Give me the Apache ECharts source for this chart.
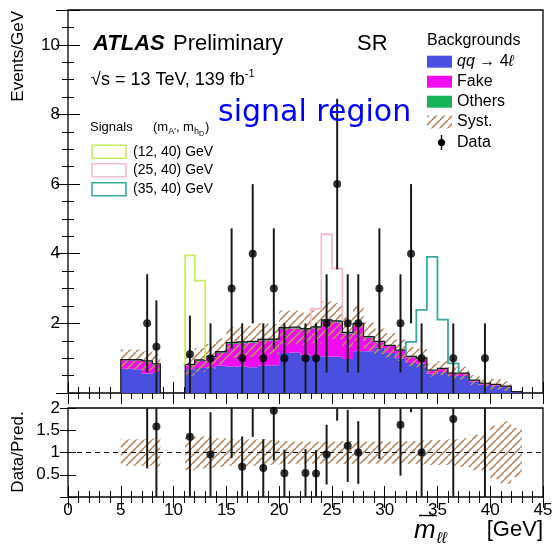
<!DOCTYPE html>
<html>
<head>
<meta charset="utf-8">
<script src="https://cdn.jsdelivr.net/npm/echarts@6/dist/echarts.min.js"></script>
<style>
html,body{margin:0;padding:0;background:#ffffff;}
#chart{width:552px;height:545px;}
</style>
</head>
<body>
<div id="chart"></div>
<script>
// Bin edges in GeV: two mass windows, 1 GeV bins, edge bins trimmed at the veto
const binLow  = [5, 6, 7, 8, 11.1, 12, 13, 14, 15, 16, 17, 18, 19, 20, 21, 22, 23, 24, 25, 26, 27, 28, 29, 30, 31, 32, 33, 34, 35, 36, 37, 38, 39, 40, 41, 42];
const binHigh = [6, 7, 8, 8.75, 12, 13, 14, 15, 16, 17, 18, 19, 20, 21, 22, 23, 24, 25, 26, 27, 28, 29, 30, 31, 32, 33, 34, 35, 36, 37, 38, 39, 40, 41, 42, 43];

// Background predictions (events / GeV), stacked in this order
const qq4l   = [0.70, 0.68, 0.56, 0.60, 0.68, 0.72, 0.74, 0.78, 0.76, 0.76, 0.74, 0.78, 0.80, 1.15, 1.16, 1.10, 1.06, 1.05, 1.04, 0.98, 1.20, 1.20, 1.30, 1.15, 1.00, 0.86, 0.84, 0.55, 0.60, 0.49, 0.49, 0.32, 0.24, 0.21, 0.17, 0.03];
const fake   = [0.24, 0.26, 0.34, 0.22, 0.12, 0.20, 0.28, 0.37, 0.65, 0.67, 0.70, 0.72, 0.71, 0.69, 0.69, 0.71, 0.80, 1.01, 0.99, 0.72, 0.76, 0.39, 0.16, 0.20, 0.21, 0.17, 0.14, 0.10, 0.10, 0.07, 0.07, 0.04, 0.03, 0.03, 0.02, 0.01];
const others = [0.02, 0.02, 0.02, 0.02, 0.02, 0.03, 0.03, 0.04, 0.04, 0.04, 0.04, 0.04, 0.04, 0.04, 0.04, 0.04, 0.04, 0.04, 0.04, 0.04, 0.04, 0.03, 0.02, 0.02, 0.02, 0.02, 0.02, 0.01, 0.01, 0.01, 0.01, 0.01, 0.01, 0.01, 0.01, 0.00];

// Relative systematic uncertainty on the total prediction
const systRel = [0.30, 0.30, 0.30, 0.32, 0.40, 0.36, 0.34, 0.32, 0.30, 0.30, 0.30, 0.30, 0.28, 0.26, 0.25, 0.25, 0.25, 0.25, 0.25, 0.26, 0.25, 0.25, 0.25, 0.25, 0.25, 0.26, 0.27, 0.28, 0.28, 0.30, 0.32, 0.40, 0.40, 0.60, 0.70, 0.55];

// Observed data (events / GeV) and statistical error
const dataVal = [0, 0, 2, 1.33, 1.11, 0, 1, 0, 3, 1, 4, 1, 3, 1, 0, 1, 1, 2, 6, 2, 2, 0, 3, 0, 2, 4, 1, 0, 0, 1, 0, 0, 1, 0, 0, 0];
const dataErr = [0, 0, 1.41, 1.33, 1.11, 0, 1, 0, 1.73, 1, 2, 1, 1.73, 1, 0, 1, 1, 1.41, 2.45, 1.41, 1.41, 0, 1.73, 0, 1.41, 2, 1, 0, 0, 1, 0, 0, 1, 0, 0, 0];

// Signal hypotheses (events / GeV above the background)
const sig12_40 = [0, 0, 0, 0, 3.13, 2.28, 0, 0, 0, 0, 0, 0, 0, 0, 0, 0, 0, 0, 0, 0, 0, 0, 0, 0, 0, 0, 0, 0, 0, 0, 0, 0, 0, 0, 0, 0];
const sig25_40 = [0, 0, 0, 0, 0, 0, 0, 0, 0, 0, 0, 0, 0, 0, 0, 0, 0.52, 2.46, 1.50, 0, 0, 0, 0, 0, 0, 0, 0, 0, 0, 0, 0, 0, 0, 0, 0, 0];
const sig35_40 = [0, 0, 0, 0, 0, 0, 0, 0, 0, 0, 0, 0, 0, 0, 0, 0, 0, 0, 0, 0, 0, 0, 0, 0, 0, 0.42, 1.39, 3.25, 1.40, 0.28, 0, 0, 0, 0, 0, 0];

const FF = "'Liberation Sans', Arial, Helvetica, sans-serif";
const COL = {
  qq: '#4b4fe0', fake: '#f00cee', oth: '#16b35b', hatch: '#b88e6a',
  s12: '#c4ee5c', s25: '#f4bccf', s35: '#3aa89c', ink: '#1a1a1a'
};

const N = binLow.length;
const lay1 = qq4l.slice();
const lay2 = qq4l.map((v, i) => v + fake[i]);
const total = lay2.map((v, i) => v + others[i]);
const zeros = new Array(N).fill(0);
const bandLo = total.map((t, i) => t * (1 - systRel[i]));
const bandHi = total.map((t, i) => t * (1 + systRel[i]));
const ratioLo = systRel.map(s => 1 - s);
const ratioHi = systRel.map(s => 1 + s);
const near = (a, b) => Math.abs(a - b) < 1e-9;

// contiguous runs of bins
const runs = [];
{
  let cur = [0];
  for (let i = 1; i < N; i++) {
    if (near(binLow[i], binHigh[i - 1])) cur.push(i); else { runs.push(cur); cur = [i]; }
  }
  runs.push(cur);
}

// diagonal hatch fill
function makeHatch() {
  const c = document.createElement('canvas');
  c.width = 8; c.height = 8;
  const g = c.getContext('2d');
  g.strokeStyle = COL.hatch; g.lineWidth = 1.7;
  g.beginPath();
  for (const k of [-8, 0, 8]) { g.moveTo(k, 8); g.lineTo(k + 8, 0); }
  g.stroke();
  return c;
}
const hatchFill = { image: makeHatch(), repeat: 'repeat' };

function bandSeries(lo, hi, style, xi, yi, z) {
  return {
    type: 'custom', xAxisIndex: xi, yAxisIndex: yi, z: z, silent: true,
    data: runs.map((r, k) => [binLow[r[0]], 0, k]),
    renderItem: (p, api) => {
      const r = runs[p.dataIndex];
      const pts = [];
      r.forEach(i => { pts.push(api.coord([binLow[i], hi[i]]), api.coord([binHigh[i], hi[i]])); });
      for (let k = r.length - 1; k >= 0; k--) {
        const i = r[k];
        pts.push(api.coord([binHigh[i], lo[i]]), api.coord([binLow[i], lo[i]]));
      }
      return { type: 'polygon', shape: { points: pts }, style: style };
    }
  };
}

function outlineSeries() {
  return {
    type: 'custom', xAxisIndex: 0, yAxisIndex: 0, z: 4, silent: true,
    data: runs.map((r, k) => [binLow[r[0]], 0, k]),
    renderItem: (p, api) => {
      const r = runs[p.dataIndex];
      const pts = [api.coord([binLow[r[0]], 0])];
      r.forEach(i => pts.push(api.coord([binLow[i], total[i]]), api.coord([binHigh[i], total[i]])));
      pts.push(api.coord([binHigh[r[r.length - 1]], 0]));
      return { type: 'polyline', shape: { points: pts }, style: { stroke: COL.ink, lineWidth: 1.2, fill: null } };
    }
  };
}

function signalSeries(sig, color) {
  const segs = [];
  let s = null;
  for (let i = 0; i < N; i++) {
    if (sig[i] > 0) {
      if (s && near(binLow[i], binHigh[s[s.length - 1]])) s.push(i);
      else { s = [i]; segs.push(s); }
    } else s = null;
  }
  return {
    type: 'custom', xAxisIndex: 0, yAxisIndex: 0, z: 6, silent: true,
    data: segs.map((g, k) => [binLow[g[0]], 0, k]),
    renderItem: (p, api) => {
      const g = segs[p.dataIndex];
      const pts = [api.coord([binLow[g[0]], total[g[0]]])];
      g.forEach(i => pts.push(api.coord([binLow[i], total[i] + sig[i]]), api.coord([binHigh[i], total[i] + sig[i]])));
      const last = g[g.length - 1];
      pts.push(api.coord([binHigh[last], total[last]]));
      return { type: 'polyline', shape: { points: pts }, style: { stroke: color, lineWidth: 1.8, fill: null } };
    }
  };
}

function errorSeries(rows, xi, yi, ymin, ymax) {
  return {
    type: 'custom', xAxisIndex: xi, yAxisIndex: yi, z: 8, silent: true, data: rows,
    renderItem: (p, api) => {
      const x = api.value(0);
      const lo = Math.max(api.value(1), ymin), hi = Math.min(api.value(2), ymax);
      if (hi <= lo) return { type: 'group', children: [] };
      const a = api.coord([x, lo]), b = api.coord([x, hi]);
      return { type: 'line', shape: { x1: a[0], y1: a[1], x2: b[0], y2: b[1] }, style: { stroke: COL.ink, lineWidth: 2 } };
    }
  };
}

// data points and ratio to the prediction
const centers = binLow.map((l, i) => (l + binHigh[i]) / 2);
const shown = [];
for (let i = 0; i < N; i++) if (dataVal[i] > 0) shown.push(i);
const mainPts = shown.map(i => [centers[i], dataVal[i]]);
const mainErr = shown.map(i => [centers[i], dataVal[i] - dataErr[i], dataVal[i] + dataErr[i]]);
const ratPts = shown.map(i => [centers[i], dataVal[i] / total[i]]).filter(d => d[1] <= 2);
const ratErr = shown.map(i => [centers[i], (dataVal[i] - dataErr[i]) / total[i], (dataVal[i] + dataErr[i]) / total[i]]);

// axes
const tickStyle = { color: '#000', width: 1 };
function xAxisDef(grid, pos, labels) {
  return {
    type: 'value', gridIndex: grid, position: pos, min: 0, max: 45, interval: 5,
    splitLine: { show: false }, axisLine: { show: false },
    axisTick: { show: true, inside: true, length: 11, lineStyle: tickStyle },
    minorTick: { show: true, splitNumber: 5, length: 6, lineStyle: tickStyle },
    axisLabel: labels ? { show: true, fontFamily: FF, fontSize: 17, color: '#000', margin: 5 } : { show: false }
  };
}
function yMain(pos, labels) {
  return {
    type: 'value', gridIndex: 0, position: pos, min: 0, max: 11, interval: 2,
    splitLine: { show: false }, axisLine: { show: false },
    axisTick: { show: true, inside: true, length: 12, lineStyle: tickStyle },
    minorTick: { show: true, splitNumber: 4, length: 6, lineStyle: tickStyle },
    axisLabel: labels ? {
      show: true, fontFamily: FF, fontSize: 17, color: '#000', margin: 8,
      formatter: v => (v > 0 && v % 2 === 0) ? String(v) : ''
    } : { show: false }
  };
}
function yRatio(pos, labels) {
  return {
    type: 'value', gridIndex: 1, position: pos, min: 0, max: 2, interval: 0.5,
    splitLine: { show: false }, axisLine: { show: false },
    axisTick: { show: true, inside: true, length: 8, lineStyle: tickStyle },
    minorTick: { show: false },
    axisLabel: labels ? {
      show: true, fontFamily: FF, fontSize: 17, color: '#000', margin: 8,
      formatter: v => v > 0 ? String(v) : ''
    } : { show: false }
  };
}

// text helpers
const mctx = document.createElement('canvas').getContext('2d');
function tw(str, size, style, fam) { mctx.font = `${style || ''} ${size}px ${fam || FF}`; return mctx.measureText(str).width; }
function txt(x, y, str, size, o) {
  o = o || {};
  return {
    type: 'text', x: x, y: y, rotation: o.rot || 0, silent: true, z: 100,
    style: {
      text: str, fill: o.color || '#000',
      font: `${o.style || ''} ${size}px ${o.fam || FF}`,
      align: o.align || 'left', verticalAlign: 'middle'
    }
  };
}

const G = [];
// header
G.push(txt(93, 44, 'ATLAS', 22, { style: 'italic bold' }));
G.push(txt(173, 44, 'Preliminary', 22));
G.push(txt(357, 44, 'SR', 22));
{
  const s = '\u221As = 13 TeV, 139 fb';
  G.push(txt(91, 80.3, s, 18));
  G.push(txt(91 + tw(s, 18), 74, '-1', 11));
}
G.push(txt(218, 113, 'signal region', 30, { fam: "'DejaVu Sans', sans-serif", color: '#0000ff' }));

// signal legend
{
  const y = 127.5;
  G.push(txt(90, y, 'Signals', 13));
  let x = 153;
  G.push(txt(x, y, '(m', 13)); x += tw('(m', 13);
  G.push(txt(x, y + 4, "A'", 9)); x += tw("A'", 9);
  G.push(txt(x, y, ', m', 13)); x += tw(', m', 13);
  G.push(txt(x, y + 4, 'h', 9)); x += tw('h', 9);
  G.push(txt(x, y + 7, 'D', 7)); x += tw('D', 7);
  G.push(txt(x + 1, y, ')', 13));
  const rows = [['(12, 40) GeV', COL.s12, 151.7], ['(25, 40) GeV', COL.s25, 170.3], ['(35, 40) GeV', COL.s35, 189.3]];
  rows.forEach(r => {
    G.push({ type: 'rect', silent: true, z: 100, shape: { x: 92, y: r[2] - 6.5, width: 34, height: 13 }, style: { fill: 'none', stroke: r[1], lineWidth: 1.6 } });
    G.push(txt(133, r[2], r[0], 14));
  });
}

// background legend
{
  G.push(txt(427, 40.7, 'Backgrounds', 16));
  const sw = (y, fill) => G.push({ type: 'rect', silent: true, z: 100, shape: { x: 427, y: y - 6, width: 25, height: 12 }, style: { fill: fill } });
  sw(61.7, COL.qq); sw(81.7, COL.fake); sw(101.7, COL.oth);
  G.push({ type: 'rect', silent: true, z: 100, shape: { x: 427, y: 115.5, width: 25, height: 13 }, style: { fill: hatchFill } });
  let x = 457;
  G.push(txt(x, 61.7, 'qq', 16, { style: 'italic' })); x += tw('qq', 16, 'italic');
  G.push(txt(x, 61.7, ' \u2192 4', 16)); x += tw(' \u2192 4', 16);
  G.push(txt(x, 61.7, '\u2113', 16, { style: 'italic' }));
  G.push(txt(457, 81.7, 'Fake', 16));
  G.push(txt(457, 101.7, 'Others', 16));
  G.push(txt(457, 121.7, 'Syst.', 16));
  G.push({ type: 'line', silent: true, z: 100, shape: { x1: 441.5, y1: 135, x2: 441.5, y2: 150 }, style: { stroke: COL.ink, lineWidth: 1.5 } });
  G.push({ type: 'circle', silent: true, z: 101, shape: { cx: 441.5, cy: 142.5, r: 3.6 }, style: { fill: '#000' } });
  G.push(txt(457, 143, 'Data', 16));
}

// axis titles
G.push(txt(18, 11, 'Events/GeV', 17, { rot: Math.PI / 2, align: 'right' }));
G.push(txt(18, 452, 'Data/Pred.', 17, { rot: Math.PI / 2, align: 'center' }));
{
  const xm = 414;
  G.push(txt(xm, 531, 'm', 26, { style: 'italic' }));
  const mw = tw('m', 26, 'italic');
  G.push({ type: 'line', silent: true, z: 100, shape: { x1: xm + 5, y1: 515.5, x2: xm + mw + 1, y2: 515.5 }, style: { stroke: '#000', lineWidth: 1.4 } });
  G.push(txt(xm + mw + 1, 539, '\u2113\u2113', 16, { style: 'italic' }));
  G.push(txt(543, 530, '[GeV]', 22, { align: 'right' }));
}

const option = {
  animation: false,
  backgroundColor: '#ffffff',
  grid: [
    { left: 68, right: 9, top: 10, height: 383, show: true, borderColor: '#000', borderWidth: 1.3, backgroundColor: 'transparent', containLabel: false, outerBoundsMode: 'none' },
    { left: 68, right: 9, top: 408, height: 89, show: true, borderColor: '#000', borderWidth: 1.3, backgroundColor: 'transparent', containLabel: false, outerBoundsMode: 'none' }
  ],
  xAxis: [xAxisDef(0, 'bottom', false), xAxisDef(0, 'top', false), xAxisDef(1, 'bottom', true), xAxisDef(1, 'top', false)],
  yAxis: [yMain('left', true), yMain('right', false), yRatio('left', true), yRatio('right', false)],
  graphic: G,
  series: [
    bandSeries(zeros, lay1, { fill: COL.qq }, 0, 0, 1),
    bandSeries(lay1, lay2, { fill: COL.fake }, 0, 0, 1),
    bandSeries(lay2, total, { fill: COL.oth }, 0, 0, 1),
    bandSeries(bandLo, bandHi, { fill: hatchFill }, 0, 0, 3),
    outlineSeries(),
    signalSeries(sig12_40, COL.s12),
    signalSeries(sig25_40, COL.s25),
    signalSeries(sig35_40, COL.s35),
    errorSeries(mainErr, 0, 0, 0, 11),
    { type: 'scatter', xAxisIndex: 0, yAxisIndex: 0, z: 9, silent: true, clip: true, data: mainPts, symbol: 'circle', symbolSize: 8, itemStyle: { color: '#000' } },
    bandSeries(ratioLo, ratioHi, { fill: hatchFill }, 2, 2, 3),
    { type: 'line', xAxisIndex: 2, yAxisIndex: 2, z: 7, silent: true, data: [[0, 1], [45, 1]], symbol: 'none', lineStyle: { color: '#000', width: 1, type: [5, 4] } },
    errorSeries(ratErr, 2, 2, 0, 2),
    { type: 'scatter', xAxisIndex: 2, yAxisIndex: 2, z: 9, silent: true, clip: true, data: ratPts, symbol: 'circle', symbolSize: 8, itemStyle: { color: '#000' } }
  ]
};

const chart = echarts.init(document.getElementById('chart'), null, { renderer: 'canvas' });
chart.setOption(option);
</script>
</body>
</html>
